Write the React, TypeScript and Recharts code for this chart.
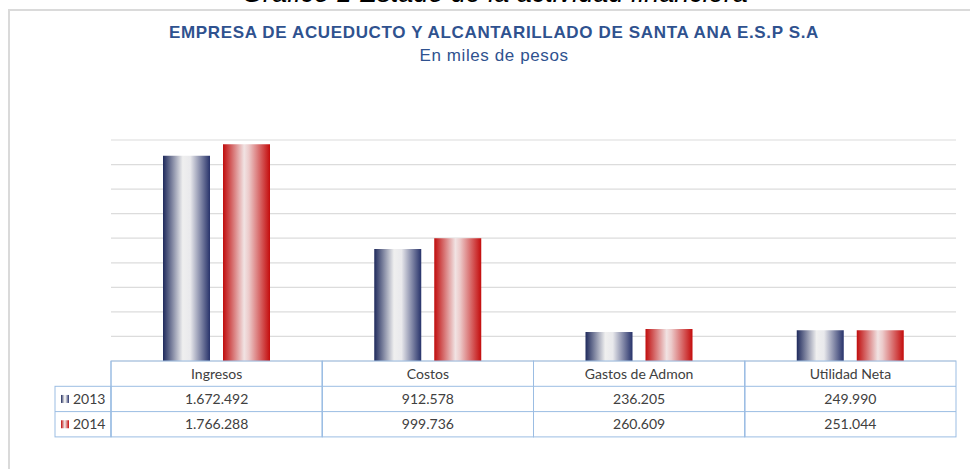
import React from 'react';
import { Bar, BarChart, CartesianGrid, XAxis, YAxis } from 'recharts';

const categories = ['Ingresos', 'Costos', 'Gastos de Admon', 'Utilidad Neta'];
const seriesNames = ['2013', '2014'];
const values2013 = [1672492, 912578, 236205, 249990];
const values2014 = [1766288, 999736, 260609, 251044];
const yTicks = [0, 200000, 400000, 600000, 800000, 1000000, 1200000, 1400000, 1600000, 1800000];

const data = categories.map((name, i) => ({ name, v2013: values2013[i], v2014: values2014[i] }));

const CHART_W = 970;
const CHART_H = 469;
const MARGIN = { top: 140, right: 14, left: 111, bottom: 32 };
const AXIS_H = 76;
const ROW_H = 25.3;
const COL_W = (CHART_W - MARGIN.left - MARGIN.right) / categories.length;
const BASE_Y = CHART_H - MARGIN.bottom - AXIS_H;
const LEGEND_W = 56;
const TABLE_LINE = '#9bbde3';
const TEXT = '#404040';
const TABLE_FONT = 'Lato, "Open Sans", sans-serif';

const fmt = (n: number) => String(n).replace(/\B(?=(\d{3})+(?!\d))/g, '.');

const rowValues = [values2013, values2014];
const rowFills = ['url(#gNavy)', 'url(#gRed)'];

function TableTick(props: any) {
  const { x, payload } = props;
  const i: number = payload?.index ?? props.index ?? 0;
  const left = x - COL_W / 2;
  const bottom = BASE_Y + ROW_H * 3;
  return (
    <g>
      <rect x={left} y={BASE_Y} width={COL_W} height={ROW_H * 3} fill="none" stroke={TABLE_LINE} strokeWidth={1} />
      <line x1={left} x2={left + COL_W} y1={BASE_Y + ROW_H} y2={BASE_Y + ROW_H} stroke={TABLE_LINE} />
      <line x1={left} x2={left + COL_W} y1={BASE_Y + ROW_H * 2} y2={BASE_Y + ROW_H * 2} stroke={TABLE_LINE} />
      <text x={x} y={BASE_Y + ROW_H / 2 + 5} textAnchor="middle" fill={TEXT} fontSize={14} fontFamily={TABLE_FONT}>
        {payload.value}
      </text>
      {rowValues.map((vals, r) => (
        <text key={r} x={x} y={BASE_Y + ROW_H * (r + 1.5) + 5} textAnchor="middle" fill={TEXT} fontSize={14} fontFamily={TABLE_FONT}>
          {fmt(vals[i])}
        </text>
      ))}
      {i === 0 && (
        <g>
          <rect x={left - LEGEND_W} y={BASE_Y + ROW_H} width={LEGEND_W} height={ROW_H * 2} fill="none" stroke={TABLE_LINE} />
          <line x1={left - LEGEND_W} x2={left} y1={BASE_Y + ROW_H * 2} y2={BASE_Y + ROW_H * 2} stroke={TABLE_LINE} />
          {seriesNames.map((s, r) => (
            <g key={s}>
              <rect x={left - LEGEND_W + 6} y={BASE_Y + ROW_H * (r + 1.5) - 4} width={8} height={8} fill={rowFills[r]} />
              <text x={left - LEGEND_W + 18} y={BASE_Y + ROW_H * (r + 1.5) + 5} fill={TEXT} fontSize={14} fontFamily={TABLE_FONT}>
                {s}
              </text>
            </g>
          ))}
        </g>
      )}
      <line x1={left} x2={left} y1={BASE_Y} y2={bottom} stroke={TABLE_LINE} />
    </g>
  );
}

export default function App() {
  return (
    <div style={{ position: 'relative', width: CHART_W, height: CHART_H, overflow: 'hidden', background: '#fff' }}>
      <style>{'body{margin:0}'}</style>
      <div
        style={{
          position: 'absolute', left: 8, top: 9, width: 1000, height: 500,
          border: '2px solid #dadada', boxSizing: 'border-box',
        }}
      />
      <div
        style={{
          position: 'absolute', left: 0, top: -22.5, width: 990, textAlign: 'center',
          fontFamily: '"Liberation Sans", Arial, sans-serif', fontStyle: 'italic', fontSize: 27, lineHeight: '30px', color: '#000',
        }}
      >
        Gráfico 1 Estado de la actividad financiera
      </div>
      <div
        style={{
          position: 'absolute', left: 0, top: 23, width: 988, textAlign: 'center', letterSpacing: 0.65,
          fontFamily: '"Liberation Sans", Arial, sans-serif', fontWeight: 'bold', fontSize: 17, lineHeight: '20px', color: '#2f528f',
        }}
      >
        EMPRESA DE ACUEDUCTO Y ALCANTARILLADO DE SANTA ANA E.S.P S.A
      </div>
      <div
        style={{
          position: 'absolute', left: 0, top: 46, width: 988, textAlign: 'center', letterSpacing: 0.6,
          fontFamily: '"Liberation Sans", Arial, sans-serif', fontSize: 17, lineHeight: '20px', color: '#2f528f',
        }}
      >
        En miles de pesos
      </div>
      <div style={{ position: 'absolute', left: 0, top: 0 }}>
        <BarChart width={CHART_W} height={CHART_H} data={data} margin={MARGIN} barGap={13} barSize={47}>
          <defs>
            <linearGradient id="gNavy" x1="0" x2="1" y1="0" y2="0">
              <stop offset="0%" stopColor="#1f2a5c" />
              <stop offset="42%" stopColor="#efefef" />
              <stop offset="58%" stopColor="#e9e9ec" />
              <stop offset="100%" stopColor="#27326a" />
            </linearGradient>
            <linearGradient id="gRed" x1="0" x2="1" y1="0" y2="0">
              <stop offset="0%" stopColor="#c00d0d" />
              <stop offset="45%" stopColor="#f1e3e3" />
              <stop offset="55%" stopColor="#eccaca" />
              <stop offset="100%" stopColor="#c40c0c" />
            </linearGradient>
          </defs>
          <CartesianGrid vertical={false} stroke="#dcdcdc" strokeWidth={1.2} />
          <YAxis hide domain={[0, 1800000]} ticks={yTicks} />
          <XAxis
            dataKey="name"
            height={AXIS_H}
            axisLine={false}
            tickLine={false}
            interval={0}
            tick={<TableTick />}
          />
          <Bar dataKey="v2013" name={seriesNames[0]} fill="url(#gNavy)" isAnimationActive={false} />
          <Bar dataKey="v2014" name={seriesNames[1]} fill="url(#gRed)" isAnimationActive={false} />
        </BarChart>
      </div>
    </div>
  );
}
